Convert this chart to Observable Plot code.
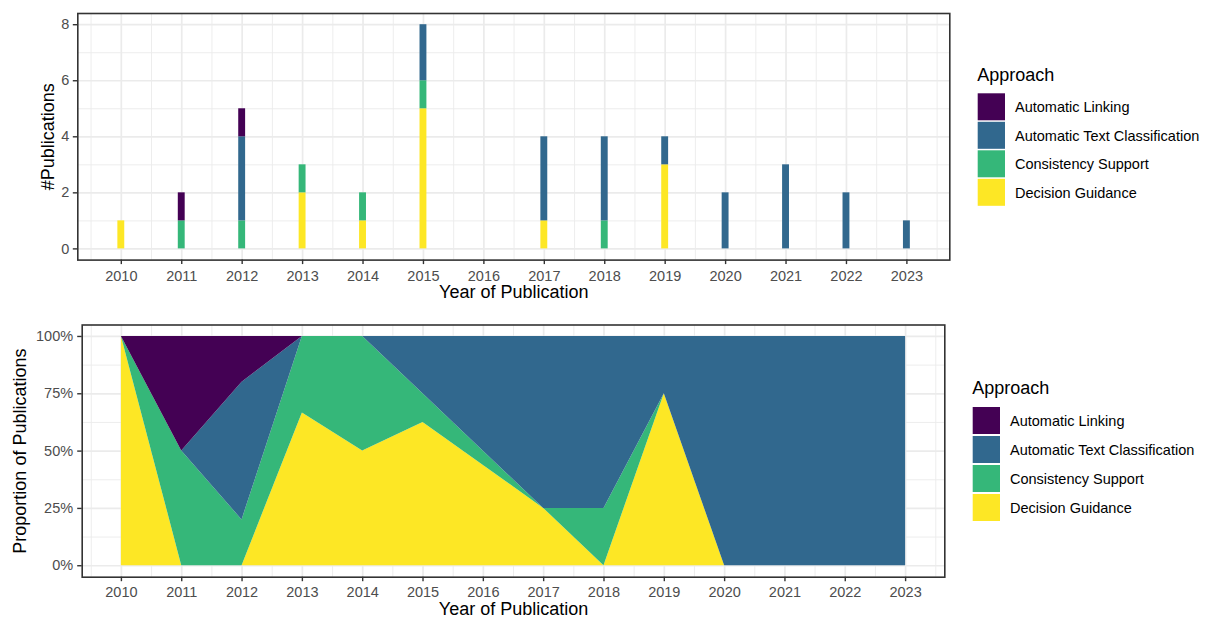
<!DOCTYPE html>
<html>
<head>
<meta charset="utf-8">
<script src="https://cdn.jsdelivr.net/npm/d3@7"></script>
<script src="https://cdn.jsdelivr.net/npm/@observablehq/plot@0.6"></script>
<style>
  html, body { margin: 0; padding: 0; background: #fff; }
  #wrap { position: relative; width: 1209px; height: 619px; overflow: hidden; background: #fff; }
  .panel { position: absolute; left: 0; }
  #legends { position: absolute; left: 0; top: 0; pointer-events: none; }
</style>
</head>
<body>
<div id="wrap">
  <div id="topPanel" class="panel" style="top:0px"></div>
  <div id="bottomPanel" class="panel" style="top:310px"></div>
</div>
<script>
// ---------------- data ----------------
const years = [2010, 2011, 2012, 2013, 2014, 2015, 2016, 2017, 2018, 2019, 2020, 2021, 2022, 2023];
const yearMinorTicks = [2009.5, 2010.5, 2011.5, 2012.5, 2013.5, 2014.5, 2015.5, 2016.5, 2017.5, 2018.5, 2019.5, 2020.5, 2021.5, 2022.5, 2023.5];
const approaches = ["Automatic Linking", "Automatic Text Classification", "Consistency Support", "Decision Guidance"];
const approachColors = ["#440154", "#31688E", "#35B779", "#FDE725"];
// publications per year (2010..2023)
const automaticLinking            = [0, 1, 1, 0, 0, 0, 0, 0, 0, 0, 0, 0, 0, 0];
const automaticTextClassification = [0, 0, 3, 0, 0, 2, 0, 3, 3, 1, 2, 3, 2, 1];
const consistencySupport          = [0, 1, 1, 1, 1, 1, 0, 0, 1, 0, 0, 0, 0, 0];
const decisionGuidance            = [1, 0, 0, 2, 1, 5, 0, 1, 0, 3, 0, 0, 0, 0];
const countTicks = [0, 2, 4, 6, 8];
const countMinorTicks = [1, 3, 5, 7];
const shareTicks = [0, 0.25, 0.5, 0.75, 1];
const shareMinorTicks = [0.125, 0.375, 0.625, 0.875];
const shareTickLabels = ["0%", "25%", "50%", "75%", "100%"];
const legendTitle = "Approach";
const xTitle = "Year of Publication";
const yTitleTop = "#Publications";
const yTitleBottom = "Proportion of Publications";

// ---------------- tables ----------------
const seriesByApproach = {
  "Automatic Linking": automaticLinking,
  "Automatic Text Classification": automaticTextClassification,
  "Consistency Support": consistencySupport,
  "Decision Guidance": decisionGuidance
};
const stackOrder = approaches.slice().reverse(); // bottom first
const rows = [];
years.forEach((year, i) => stackOrder.forEach(a => rows.push({year, approach: a, count: seriesByApproach[a][i]})));
const totals = years.map((_, i) => approaches.reduce((s, a) => s + seriesByApproach[a][i], 0));
const barRows = rows.filter(r => r.count > 0);
const areaRows = rows.filter(r => totals[years.indexOf(r.year)] > 0);

const font = "'Liberation Sans', Arial, Helvetica, sans-serif";
const gridMajor = {stroke: "#EBEBEB", strokeOpacity: 1, strokeWidth: 1.7};
const gridMinor = {stroke: "#EBEBEB", strokeOpacity: 1, strokeWidth: 0.9};
const axisStyle = {fill: "#4D4D4D", stroke: "#333333", strokeWidth: 1.4, fontSize: 14.5, label: null, tickSize: 4.5};
const colorScale = {domain: approaches, range: approachColors};

// ---------------- top: counts ----------------
const topChart = Plot.plot({
  width: 1209, height: 310,
  marginTop: 13, marginBottom: 50.4, marginLeft: 77.3, marginRight: 259.7,
  style: {fontFamily: font, fontSize: "14.5px", background: "transparent", overflow: "visible"},
  x: {type: "linear", domain: [2009.28, 2023.71]},
  y: {domain: [-0.4, 8.4]},
  color: colorScale,
  marks: [
    Plot.gridX(yearMinorTicks, gridMinor),
    Plot.gridY(countMinorTicks, gridMinor),
    Plot.gridX(years, gridMajor),
    Plot.gridY(countTicks, gridMajor),
    Plot.rectY(barRows, Plot.stackY({x1: d => d.year - 0.057, x2: d => d.year + 0.057, y: "count", fill: "approach"})),
    Plot.axisX(years, {...axisStyle, tickPadding: 5.9, tickFormat: d => String(d)}),
    Plot.axisY(countTicks, {...axisStyle, tickPadding: 4, tickFormat: d => String(d)}),
    Plot.frame({stroke: "#333333", strokeWidth: 1.6}),
    Plot.text([xTitle], {frameAnchor: "bottom", lineAnchor: "top", dy: 25.4, fontSize: 18, fill: "black"}),
    Plot.text([yTitleTop], {frameAnchor: "left", rotate: -90, lineAnchor: "middle", textAnchor: "middle", dx: -29.1, fontSize: 18, fill: "black"})
  ]
});
document.getElementById("topPanel").appendChild(topChart);

// ---------------- bottom: proportions ----------------
const bottomChart = Plot.plot({
  width: 1209, height: 309,
  marginTop: 14.5, marginBottom: 42.3, marginLeft: 81.7, marginRight: 264.7,
  style: {fontFamily: font, fontSize: "14.5px", background: "transparent", overflow: "visible"},
  x: {type: "linear", domain: [2009.35, 2023.65]},
  y: {domain: [-0.05, 1.05]},
  color: colorScale,
  marks: [
    Plot.gridX(yearMinorTicks, gridMinor),
    Plot.gridY(shareMinorTicks, gridMinor),
    Plot.gridX(years, gridMajor),
    Plot.gridY(shareTicks, gridMajor),
    Plot.areaY(areaRows, Plot.stackY({x: "year", y: "count", z: "approach", fill: "approach", offset: "normalize"})),
    Plot.axisX(years, {...axisStyle, tickPadding: 4.8, tickFormat: d => String(d)}),
    Plot.axisY(shareTicks, {...axisStyle, tickPadding: 4.6, tickFormat: d => shareTickLabels[shareTicks.indexOf(d)]}),
    Plot.frame({stroke: "#333333", strokeWidth: 1.6}),
    Plot.text([xTitle], {frameAnchor: "bottom", lineAnchor: "top", dy: 25, fontSize: 18, fill: "black"}),
    Plot.text([yTitleBottom], {frameAnchor: "left", rotate: -90, lineAnchor: "middle", textAnchor: "middle", dx: -62, fontSize: 18, fill: "black"})
  ]
});
document.getElementById("bottomPanel").appendChild(bottomChart);

// ---------------- legends ----------------
const svg = d3.select("#wrap").append("svg")
  .attr("id", "legends").attr("width", 1209).attr("height", 619)
  .style("font-family", font);

function legend(x, titleBaseline, keyTop, step) {
  const g = svg.append("g");
  g.append("text").attr("x", x).attr("y", titleBaseline)
    .attr("font-size", 18).attr("fill", "black").text(legendTitle);
  approaches.forEach((a, i) => {
    const y0 = keyTop + i * step;
    g.append("rect").attr("x", x + 0.4).attr("y", y0).attr("width", 27.3).attr("height", 27)
      .attr("fill", approachColors[i]);
    g.append("text").attr("x", x + 37.7).attr("y", y0 + 13.5 + 5.3)
      .attr("font-size", 14.5).attr("fill", "black").text(a);
  });
}
legend(977.3, 81.2, 93.3, 28.5);
legend(972.3, 393.6, 407, 29);
</script>
</body>
</html>
